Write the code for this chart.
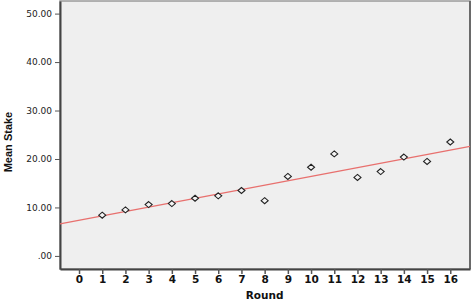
<!DOCTYPE html>
<html lang="en">
  <head>
    <meta charset="UTF-8" />
    <title>Mean Stake by Round</title>
    <style>
      body {
        margin: 0;
        background: #fff;
      }
      .tick text {
        font-family: "DejaVu Sans", sans-serif;
      }
    </style>
  </head>
  <body>
    <script src="https://d3js.org/d3.v7.min.js"></script>
    <script>
      // values
      const rounds = [1, 2, 3, 4, 5, 6, 7, 8, 9, 10, 11, 12, 13, 14, 15, 16];
      const meanStake = [
        8.4, 9.5, 10.6, 10.8, 11.9, 12.4, 13.5, 11.4, 16.4, 18.3, 21.05, 16.2,
        17.4, 20.4, 19.5, 23.5,
      ];
      const xTicks = [0, 1, 2, 3, 4, 5, 6, 7, 8, 9, 10, 11, 12, 13, 14, 15, 16];
      const yTicks = [0, 10, 20, 30, 40, 50];
      const fitIntercept = 7.34;
      const fitSlope = 0.905;

      const width = 472;
      const height = 302;
      const margin = { top: 1, right: 2, bottom: 33, left: 60 };

      const svg = d3
        .select("body")
        .append("svg")
        .attr("width", width)
        .attr("height", height);

      const x = d3
        .scaleLinear()
        .domain([-0.82, 16.85])
        .range([margin.left, width - margin.right]);

      const y = d3
        .scaleLinear()
        .domain([-2.7, 52.6])
        .range([height - margin.bottom, margin.top]);

      // plot background and frame
      svg
        .append("rect")
        .attr("x", margin.left)
        .attr("y", margin.top)
        .attr("width", width - margin.left - margin.right)
        .attr("height", height - margin.top - margin.bottom)
        .attr("fill", "#efefef")
        .attr("stroke", "#9a9a9a")
        .attr("stroke-width", 1.5);

      svg
        .append("line")
        .attr("x1", width - margin.right)
        .attr("x2", width - margin.right)
        .attr("y1", margin.top)
        .attr("y2", height - margin.bottom)
        .attr("stroke", "#6a6a6a")
        .attr("stroke-width", 2);

      const xAxis = svg
        .append("g")
        .attr("transform", `translate(0, ${height - margin.bottom})`)
        .call(
          d3
            .axisBottom(x)
            .tickValues(xTicks)
            .tickSize(5)
            .tickSizeOuter(0)
            .tickPadding(2)
        );
      xAxis.select(".domain").attr("stroke", "#444").attr("stroke-width", 2);
      xAxis.selectAll(".tick line").attr("stroke", "#555").attr("stroke-width", 1.5);
      xAxis
        .selectAll(".tick text")
        .attr("font-size", 10.5)
        .attr("font-weight", "bold")
        .attr("fill", "#111");

      const yAxis = svg
        .append("g")
        .attr("transform", `translate(${margin.left}, 0)`)
        .call(
          d3
            .axisLeft(y)
            .tickValues(yTicks)
            .tickSize(5)
            .tickSizeOuter(0)
            .tickPadding(3)
            .tickFormat((d) => (d === 0 ? ".00" : d3.format(".2f")(d)))
        );
      yAxis.select(".domain").attr("stroke", "#444").attr("stroke-width", 2);
      yAxis.selectAll(".tick line").attr("stroke", "#555");
      yAxis
        .selectAll(".tick text")
        .attr("font-size", 9)
        .attr("fill", "#222");

      // fit line
      const line = d3
        .line()
        .x((d) => x(d))
        .y((d) => y(fitIntercept + fitSlope * d));

      svg
        .append("path")
        .attr("d", line(x.domain()))
        .attr("fill", "none")
        .attr("stroke", "#e8706e")
        .attr("stroke-width", 1.3);

      // markers
      const diamond = "M0,-3L3.5,0L0,3L-3.5,0Z";
      svg
        .append("g")
        .selectAll("path")
        .data(rounds)
        .join("path")
        .attr("transform", (d, i) => `translate(${x(d)}, ${y(meanStake[i])})`)
        .attr("d", diamond)
        .attr("fill", "#f4f4f4")
        .attr("stroke", "#222")
        .attr("stroke-width", 1.1);

      // axis titles
      svg
        .append("text")
        .attr("x", x(8))
        .attr("y", 298.5)
        .attr("text-anchor", "middle")
        .attr("font-family", "DejaVu Sans, sans-serif")
        .attr("font-weight", "bold")
        .attr("font-size", 10.5)
        .attr("fill", "#111")
        .text("Round");

      svg
        .append("text")
        .attr("transform", `translate(12, ${y(23.5)}) rotate(-90)`)
        .attr("text-anchor", "middle")
        .attr("font-family", "Liberation Sans Narrow, Liberation Sans, sans-serif")
        .attr("font-weight", "bold")
        .attr("font-size", 11)
        .attr("fill", "#111")
        .text("Mean Stake");
    </script>
  </body>
</html>
